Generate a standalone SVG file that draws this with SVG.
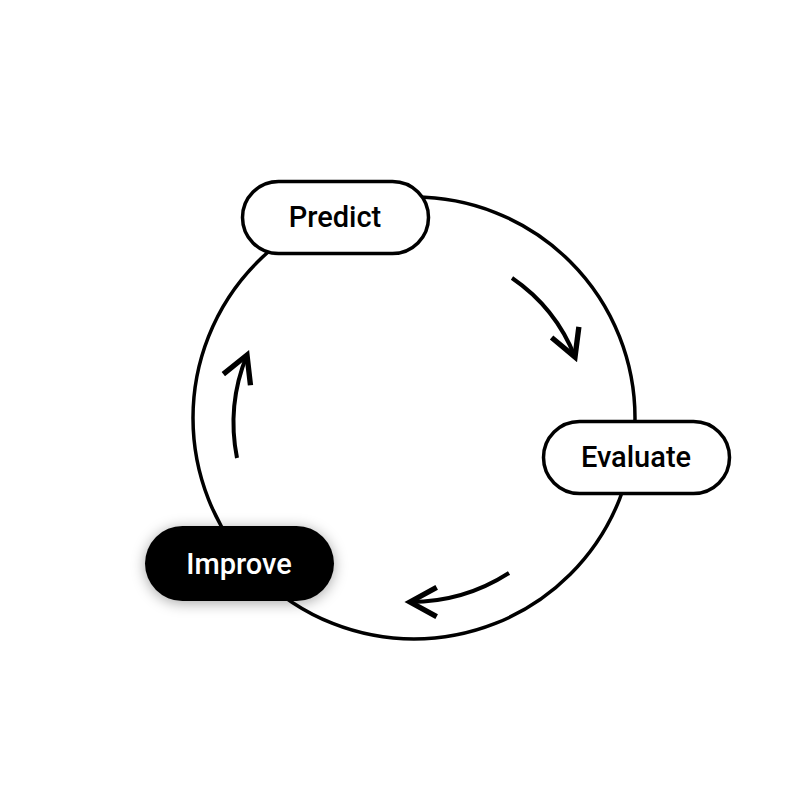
<svg xmlns="http://www.w3.org/2000/svg" width="800" height="800" viewBox="0 0 800 800">
<style>
.ring{fill:none;stroke:#000;stroke-width:3.5}
.pill{fill:#fff;stroke:#000;stroke-width:3.5}
.dark{fill:#000;stroke:none}
.lbl{font-family:Roboto,"Liberation Sans",sans-serif;font-size:29px;font-weight:500;text-anchor:middle;fill:#000}
.lblw{fill:#fff}
.arr{fill:none;stroke:#000;stroke-width:4;marker-end:url(#chev)}
</style>
<defs>
<marker id="chev" markerUnits="userSpaceOnUse" markerWidth="40" markerHeight="40" viewBox="-25 -15 30 30" refX="0" refY="0" orient="auto">
<path d="M-20,-11 L0,0 L-20,11" fill="none" stroke="#000" stroke-width="4"/>
</marker>
<filter id="sh" x="-30%" y="-40%" width="160%" height="180%">
<feDropShadow dx="0" dy="2" stdDeviation="7" flood-color="#000" flood-opacity="0.35"/>
</filter>
</defs>
<rect width="800" height="800" fill="#fff"/>
<g id="connectors">
<circle class="ring" cx="414" cy="418" r="221"/>
<path class="arr" d="M512,278 A172,172 0 0 1 575,357"/>
<path class="arr" d="M509,573 A183,183 0 0 1 410,602"/>
<path class="arr" d="M237,458 A180,180 0 0 1 247,355"/>
</g>
<g id="predict">
<rect class="pill" x="242.5" y="181.5" width="186" height="72" rx="36"/>
<text class="lbl" x="335" y="227">Predict</text>
</g>
<g id="evaluate">
<rect class="pill" x="543.5" y="421.5" width="186" height="72" rx="36"/>
<text class="lbl" x="636" y="467">Evaluate</text>
</g>
<g id="improve">
<rect class="dark" x="145" y="526" width="189" height="75" rx="37.5" filter="url(#sh)"/>
<text class="lbl lblw" x="239" y="574">Improve</text>
</g>
</svg>
